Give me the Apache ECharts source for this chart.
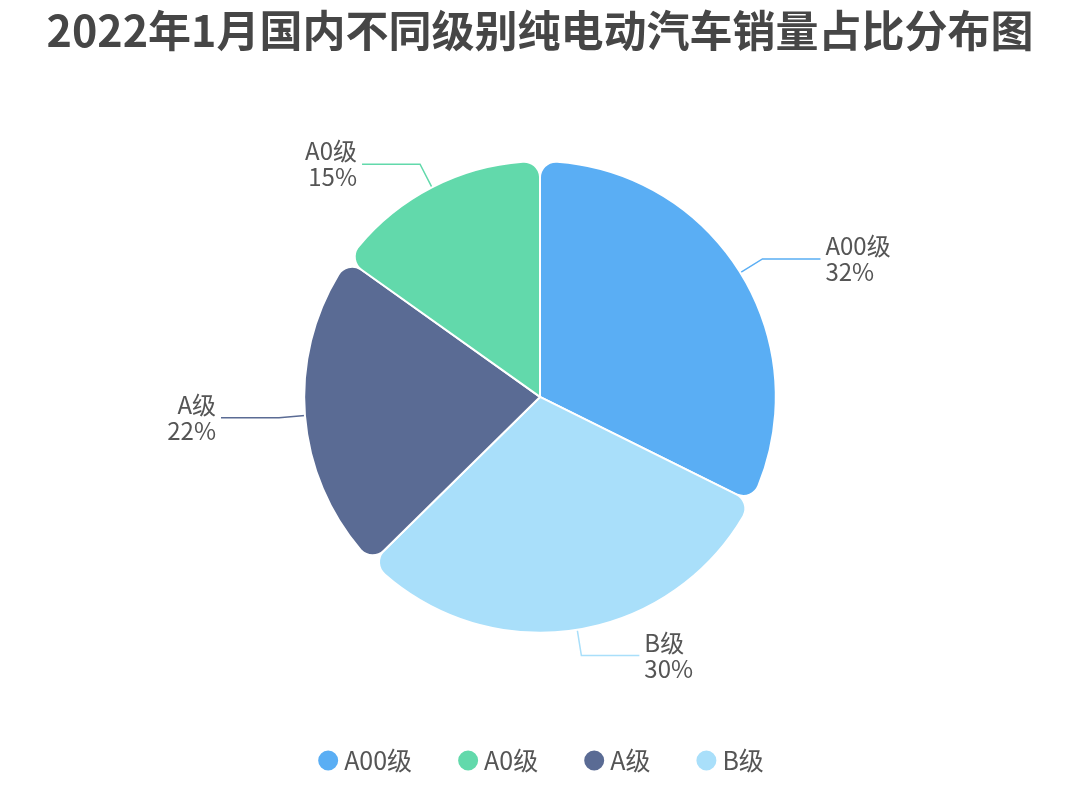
<!DOCTYPE html>
<html lang="zh">
<head>
    <meta charset="UTF-8">
    <title>纯电动汽车销量占比</title>
    <script src="https://cdn.jsdelivr.net/npm/echarts@6/dist/echarts.min.js"></script>
    <style>
        html, body { margin: 0; padding: 0; background: #fff; }
        #main { width: 1080px; height: 786px; }
    </style>
</head>
<body>
<div id="main"></div>
<script>
    // 级别与占比（%），按占比从大到小排列
    let levels = ['A00级', 'B级', 'A级', 'A0级'];
    let shares = [32, 30, 22, 15];
    let legendOrder = ['A00级', 'A0级', 'A级', 'B级'];
    let colorMap = {
        'A00级': '#5aaef4',
        'A0级': '#62d9ab',
        'A级': '#5a6b94',
        'B级': '#a9dffa'
    };

    let chart = echarts.init(document.getElementById('main'));

    let data = [];
    for (let i = 0; i < levels.length; i++) {
        data.push({
            name: levels[i],
            value: shares[i],
            itemStyle: { color: colorMap[levels[i]] }
        });
    }

    let option = {
        title: {
            text: '2022年1月国内不同级别纯电动汽车销量占比分布图',
            left: 'center',
            top: 4,
            textStyle: {
                fontFamily: 'Noto Sans CJK SC',
                fontSize: 43,
                fontWeight: 'bold',
                color: '#464646'
            }
        },
        legend: {
            data: legendOrder,
            bottom: 8,
            left: 'center',
            icon: 'circle',
            itemWidth: 22,
            itemHeight: 22,
            itemGap: 44,
            textStyle: {
                fontFamily: 'Noto Sans CJK SC',
                fontSize: 25,
                color: '#555'
            }
        },
        series: [
            {
                type: 'pie',
                center: ['50%', '50.5%'],
                radius: '60%',
                startAngle: 90,
                data: data,
                itemStyle: {
                    borderColor: '#fff',
                    borderWidth: 2,
                    borderRadius: 16
                },
                label: {
                    show: true,
                    formatter: '{b}\n{c}%',
                    fontFamily: 'Noto Sans CJK SC',
                    fontSize: 24,
                    lineHeight: 26,
                    color: '#555'
                },
                labelLine: {
                    length: 26,
                    length2: 58,
                    lineStyle: { width: 1.5 }
                }
            }
        ]
    };
    chart.setOption(option);
</script>
</body>
</html>
